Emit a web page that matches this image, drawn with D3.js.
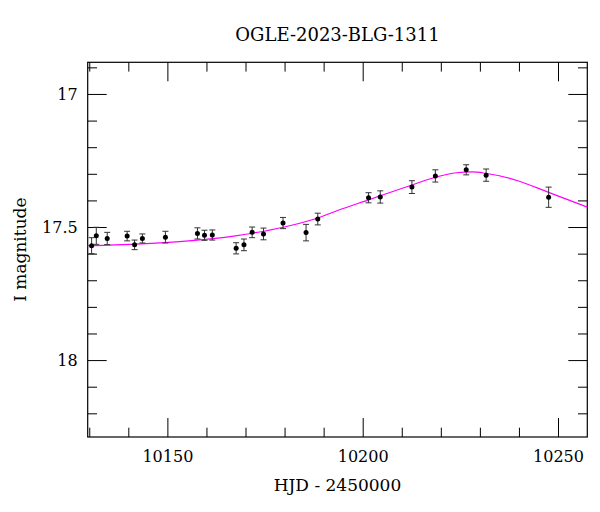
<!DOCTYPE html>
<html>
<head>
<meta charset="utf-8">
<script src="https://cdn.jsdelivr.net/npm/d3@7"></script>
<style>
  body { margin: 0; background: #fff; }
  svg text { font-family: "DejaVu Serif", serif; fill: #000; }
</style>
</head>
<body>
<div id="chart"></div>
<script>
// observed points (HJD - 2450000, I mag, error)
const hjd = [10130.6, 10131.8, 10134.6, 10139.7, 10141.6, 10143.6, 10149.5, 10157.7,
  10159.5, 10161.5, 10167.6, 10169.6, 10171.7, 10174.6, 10179.6, 10185.5, 10188.5,
  10201.5, 10204.5, 10212.6, 10218.6, 10226.5, 10231.6, 10247.6];
const mag = [17.570, 17.533, 17.543, 17.534, 17.567, 17.543, 17.538, 17.524,
  17.531, 17.530, 17.580, 17.567, 17.520, 17.526, 17.485, 17.521, 17.470,
  17.390, 17.387, 17.350, 17.308, 17.285, 17.305, 17.388];
const magErr = [0.030, 0.032, 0.023, 0.018, 0.018, 0.017, 0.022, 0.021,
  0.019, 0.019, 0.021, 0.022, 0.020, 0.022, 0.021, 0.031, 0.022,
  0.019, 0.023, 0.024, 0.023, 0.019, 0.023, 0.038];

// model curve, sampled off the plot
const modelHjd = [10129.6, 10141.9, 10154.7, 10167.4, 10180.2, 10188.7, 10193.6, 10201.5,
  10212.6, 10218.6, 10224.0, 10228.0, 10231.4, 10239.9, 10247.6, 10257.5];
const modelMag = [17.570, 17.564, 17.553, 17.533, 17.499, 17.465, 17.438, 17.398,
  17.342, 17.313, 17.296, 17.293, 17.298, 17.327, 17.370, 17.425];

// ticks
const xMajor = [10150, 10200, 10250];
const xMinor = [10130, 10140, 10160, 10170, 10180, 10190, 10210, 10220, 10230, 10240];
const yMajor = [17, 17.5, 18];
const yMinor = [16.9, 17.1, 17.2, 17.3, 17.4, 17.6, 17.7, 17.8, 17.9, 18.1, 18.2];

const title = "OGLE-2023-BLG-1311";
const xTitle = "HJD - 2450000";
const yTitle = "I magnitude";

const width = 600, height = 512;
const margin = {top: 62.3, right: 12.7, bottom: 75, left: 87.7};

const svg = d3.select("#chart").append("svg")
  .attr("width", width)
  .attr("height", height);

const x = d3.scaleLinear()
  .domain([10129.6, 10257.5])
  .range([margin.left, width - margin.right]);

// magnitudes run downwards
const y = d3.scaleLinear()
  .domain([16.881, 18.289])
  .range([margin.top, height - margin.bottom]);

const plotW = width - margin.left - margin.right;
const plotH = height - margin.top - margin.bottom;

//inward ticks on all four sides
function ticks(axis, values, size, labels) {
  return axis.tickValues(values).tickSize(-size)
    .tickFormat(labels ? d3.format("") : "");
}

const axes = [
  [d3.axisBottom(x), xMajor, 19, true, `translate(0,${height - margin.bottom})`],
  [d3.axisBottom(x), xMinor, 9.3, false, `translate(0,${height - margin.bottom})`],
  [d3.axisTop(x), xMajor, 19, false, `translate(0,${margin.top})`],
  [d3.axisTop(x), xMinor, 9.3, false, `translate(0,${margin.top})`],
  [d3.axisLeft(y), yMajor, 19, true, `translate(${margin.left},0)`],
  [d3.axisLeft(y), yMinor, 9.3, false, `translate(${margin.left},0)`],
  [d3.axisRight(y), yMajor, 19, false, `translate(${width - margin.right},0)`],
  [d3.axisRight(y), yMinor, 9.3, false, `translate(${width - margin.right},0)`]
];

axes.forEach(a => {
  const g = svg.append("g")
    .attr("transform", a[4])
    .call(ticks(a[0], a[1], a[2], a[3]).tickPadding(a[0] === axes[0][0] || a[0] === axes[1][0] ? 14 : 10));
  g.select(".domain").remove();
  g.selectAll(".tick line").attr("stroke", "#000").attr("stroke-width", 1);
  g.selectAll(".tick text").style("font-size", "16px");
  if (!a[3]) g.selectAll(".tick text").remove();
});

// frame
svg.append("rect")
  .attr("x", margin.left)
  .attr("y", margin.top)
  .attr("width", plotW)
  .attr("height", plotH)
  .attr("fill", "none")
  .attr("stroke", "#000")
  .attr("stroke-width", 1.2);

const plot = svg.append("g");

// model
const line = d3.line()
  .x((d, i) => x(modelHjd[i]))
  .y((d, i) => y(modelMag[i]))
  .curve(d3.curveMonotoneX);

plot.append("path")
  .datum(modelHjd)
  .attr("d", line)
  .attr("fill", "none")
  .attr("stroke", "#ff00ff")
  .attr("stroke-width", 1.2);

// error bars
const pts = hjd.map((h, i) => ({h: h, m: mag[i], e: magErr[i]}));
const bars = plot.selectAll("g.err")
  .data(pts)
  .join("g")
  .attr("class", "err")
  .attr("stroke", "#333")
  .attr("stroke-width", 1);

bars.append("line")
  .attr("x1", d => x(d.h)).attr("x2", d => x(d.h))
  .attr("y1", d => y(d.m - d.e)).attr("y2", d => y(d.m + d.e));
bars.append("line")
  .attr("x1", d => x(d.h) - 3).attr("x2", d => x(d.h) + 3)
  .attr("y1", d => y(d.m - d.e)).attr("y2", d => y(d.m - d.e));
bars.append("line")
  .attr("x1", d => x(d.h) - 3).attr("x2", d => x(d.h) + 3)
  .attr("y1", d => y(d.m + d.e)).attr("y2", d => y(d.m + d.e));

plot.selectAll("circle")
  .data(pts)
  .join("circle")
  .attr("cx", d => x(d.h))
  .attr("cy", d => y(d.m))
  .attr("r", 2.5)
  .attr("fill", "#000");

// titles
svg.append("text")
  .attr("x", margin.left + plotW / 2)
  .attr("y", 41)
  .attr("text-anchor", "middle")
  .style("font-size", "18px")
  .text(title);

svg.append("text")
  .attr("x", margin.left + plotW / 2)
  .attr("y", 491)
  .attr("text-anchor", "middle")
  .style("font-size", "17px")
  .text(xTitle);

svg.append("text")
  .attr("transform", `translate(25.5,${margin.top + plotH / 2}) rotate(-90)`)
  .attr("text-anchor", "middle")
  .style("font-size", "17px")
  .text(yTitle);
</script>
</body>
</html>
